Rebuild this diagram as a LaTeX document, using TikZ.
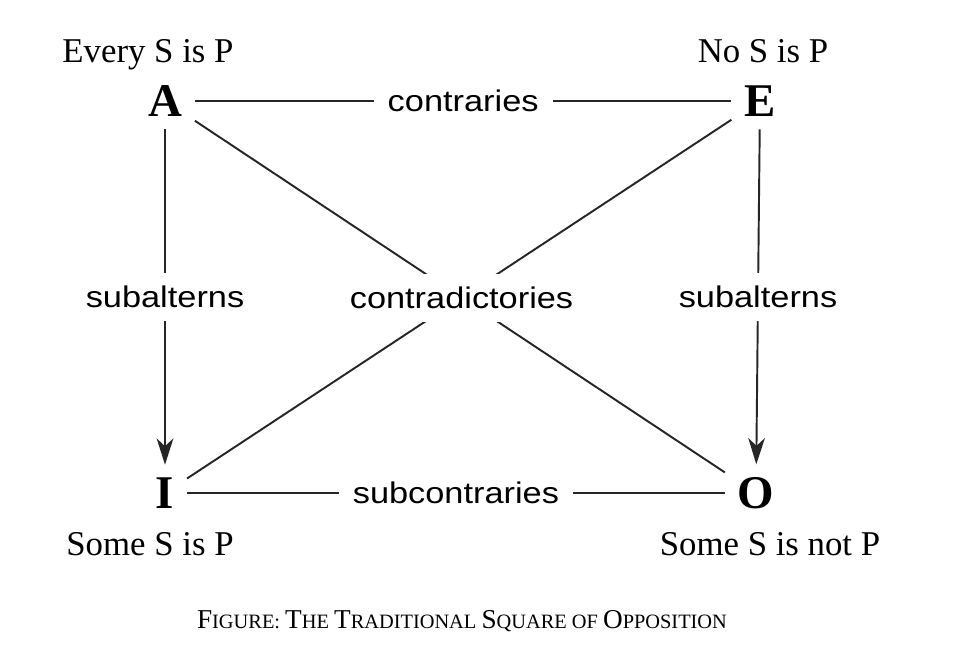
\documentclass[tikz,border=0pt]{standalone}
\usepackage{fontspec}
\setmainfont{Liberation Serif}
\newfontfamily\relfont[FakeStretch=1.15]{Liberation Sans}
\usetikzlibrary{arrows.meta}
\newcommand{\capletter}[1]{{\fontsize{15.5}{18}\selectfont #1}}

\begin{document}
\begin{tikzpicture}[x=0.02cm, y=-0.02cm, line width=1.1pt, draw=black!85,
  corner/.style={font=\fontsize{26.7}{30}\selectfont\bfseries, inner sep=6.8pt},
  prop/.style={font=\fontsize{19.8}{23}\selectfont, anchor=base, inner sep=0pt},
  rel/.style={font=\relfont\fontsize{17}{20}\selectfont, fill=white, inner xsep=8pt, inner ysep=7.5pt},
  imp/.style={-{Stealth[length=15pt, width=9.5pt, inset=4.5pt]}}]
\useasboundingbox (0,0) rectangle (964,662);
\node[corner] (A) at (165,101) {A};
\node[corner] (E) at (760,101) {E};
\node[corner] (I) at (165,493) {I};
\node[corner] (O) at (756,493) {O};
\node[prop] (tA) at (148,63) {Every S is P};
\node[prop] (tE) at (763,63) {No S is P};
\node[prop] (tI) at (150,555) {Some S is P};
\node[prop] (tO) at (770,555) {Some S is not P};
\draw (A) -- (O); \draw (E) -- (I);
\node[rel] (cd) at (intersection of A--O and E--I) {contradictories};
\draw (A) -- node[rel] {contraries} (E);
\draw (I) -- node[rel] {subcontraries} (O);
\draw[imp] (A) -- node[rel] {subalterns} (I);
\draw[imp] (E) -- node[rel] {subalterns} (O);
\node[prop, font=\fontsize{11.6}{14}\selectfont] (cap) at (462,628) {\capletter{F}IGURE: \capletter{T}HE \capletter{T}RADITIONAL \capletter{S}QUARE OF \capletter{O}PPOSITION};
\end{tikzpicture}
\end{document}
